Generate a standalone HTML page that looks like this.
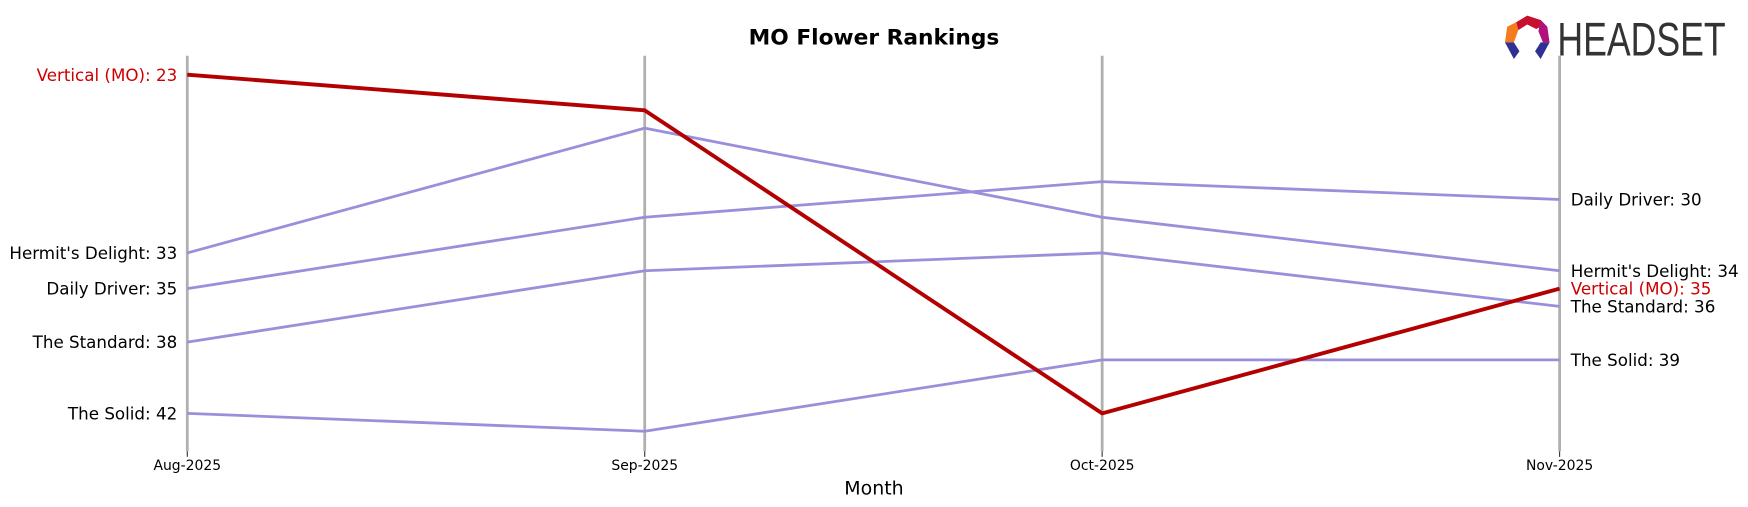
<!DOCTYPE html>
<html><head><meta charset="utf-8"><style>
html,body{margin:0;padding:0;background:#fff;}
svg{display:block;font-family:"DejaVu Sans","Liberation Sans",sans-serif;}
</style></head><body>
<svg id="chart" width="1748" height="507" viewBox="0 0 1568 455" preserveAspectRatio="none" xmlns="http://www.w3.org/2000/svg">
<text x="784" y="40" text-anchor="middle" font-size="19.5" font-weight="bold">MO Flower Rankings</text>
<text x="784" y="444" text-anchor="middle" font-size="17">Month</text>
<g>
<polygon points="1360,20 1370,14 1382,18 1386,22 1378,26 1370,22 1362,27" fill="#c8102e"/>
<polygon points="1352,24 1360,20 1362,27 1358,38 1350,38" fill="#f47b20"/>
<polygon points="1382,18 1388,24 1390,38 1384,38 1380,28" fill="#b0127d"/>
<polygon points="1350,38 1358,38 1363,46 1358,53" fill="#2e3192"/>
<polygon points="1390,38 1382,38 1377,46 1382,53" fill="#2e3192"/>
<text x="1397" y="50" font-family="'Liberation Sans Narrow','Liberation Sans',sans-serif" font-size="42" fill="#333" textLength="151" lengthAdjust="spacingAndGlyphs">HEADSET</text>
</g>
<g id="axes"></g>
<g id="series"></g>
<g id="labels"></g>
</svg>
<script>
const months = ["Aug-2025","Sep-2025","Oct-2025","Nov-2025"];
const seriesNames = ["Hermit's Delight","Daily Driver","The Standard","The Solid","Vertical (MO)"];
const hermitsDelight = [33,26,31,34];
const dailyDriver = [35,31,29,30];
const theStandard = [38,34,33,36];
const theSolid = [42,43,39,39];
const verticalMO = [23,25,42,35];
const allValues = [hermitsDelight,dailyDriver,theStandard,theSolid,verticalMO];

const NS="http://www.w3.org/2000/svg";
const x0=168,x1=1399,yTop=67,yPer=16,rMin=23;
const xScale=i=>x0+i*(x1-x0)/(months.length-1);
const yScale=r=>yTop+(r-rMin)*yPer;
function mk(tag,attrs,parent){const e=document.createElementNS(NS,tag);for(const k in attrs)e.setAttribute(k,attrs[k]);parent.appendChild(e);return e;}
const axes=document.getElementById('axes'),ser=document.getElementById('series'),lab=document.getElementById('labels');
months.forEach((m,i)=>{
  const x=xScale(i);
  const l=mk('line',{x1:x,x2:x,y1:50,y2:405,stroke:'#b0b0b0','stroke-width':2.5},axes);
  
  
  const t=mk('line',{x1:x,x2:x,y1:405,y2:410,stroke:'#333','stroke-width':1},axes);
  
  
  const tx=mk('text',{x:x,y:422,'text-anchor':'middle','font-size':12.5},axes);
  tx.textContent=m;
  
  
});
allValues.forEach((vals,si)=>{
  const isV=si===4;
  const pts=vals.map((v,i)=>xScale(i)+','+yScale(v)).join(' ');
  const p=mk('polyline',{points:pts,fill:'none',stroke:isV?'#b30000':'#9b8fdc','stroke-width':isV?3.5:2.5,'stroke-linejoin':'round'},ser);
  
  
  const col=isV?'#cc0000':'#000';
  const a=mk('text',{x:159,y:yScale(vals[0])+5.5,'text-anchor':'end','font-size':15,fill:col},lab);
  a.textContent=seriesNames[si]+': '+vals[0];
  
  
  const b=mk('text',{x:1409,y:yScale(vals[3])+5.5,'font-size':15,fill:col},lab);
  b.textContent=seriesNames[si]+': '+vals[3];
  
  
});
</script>
</body></html>
